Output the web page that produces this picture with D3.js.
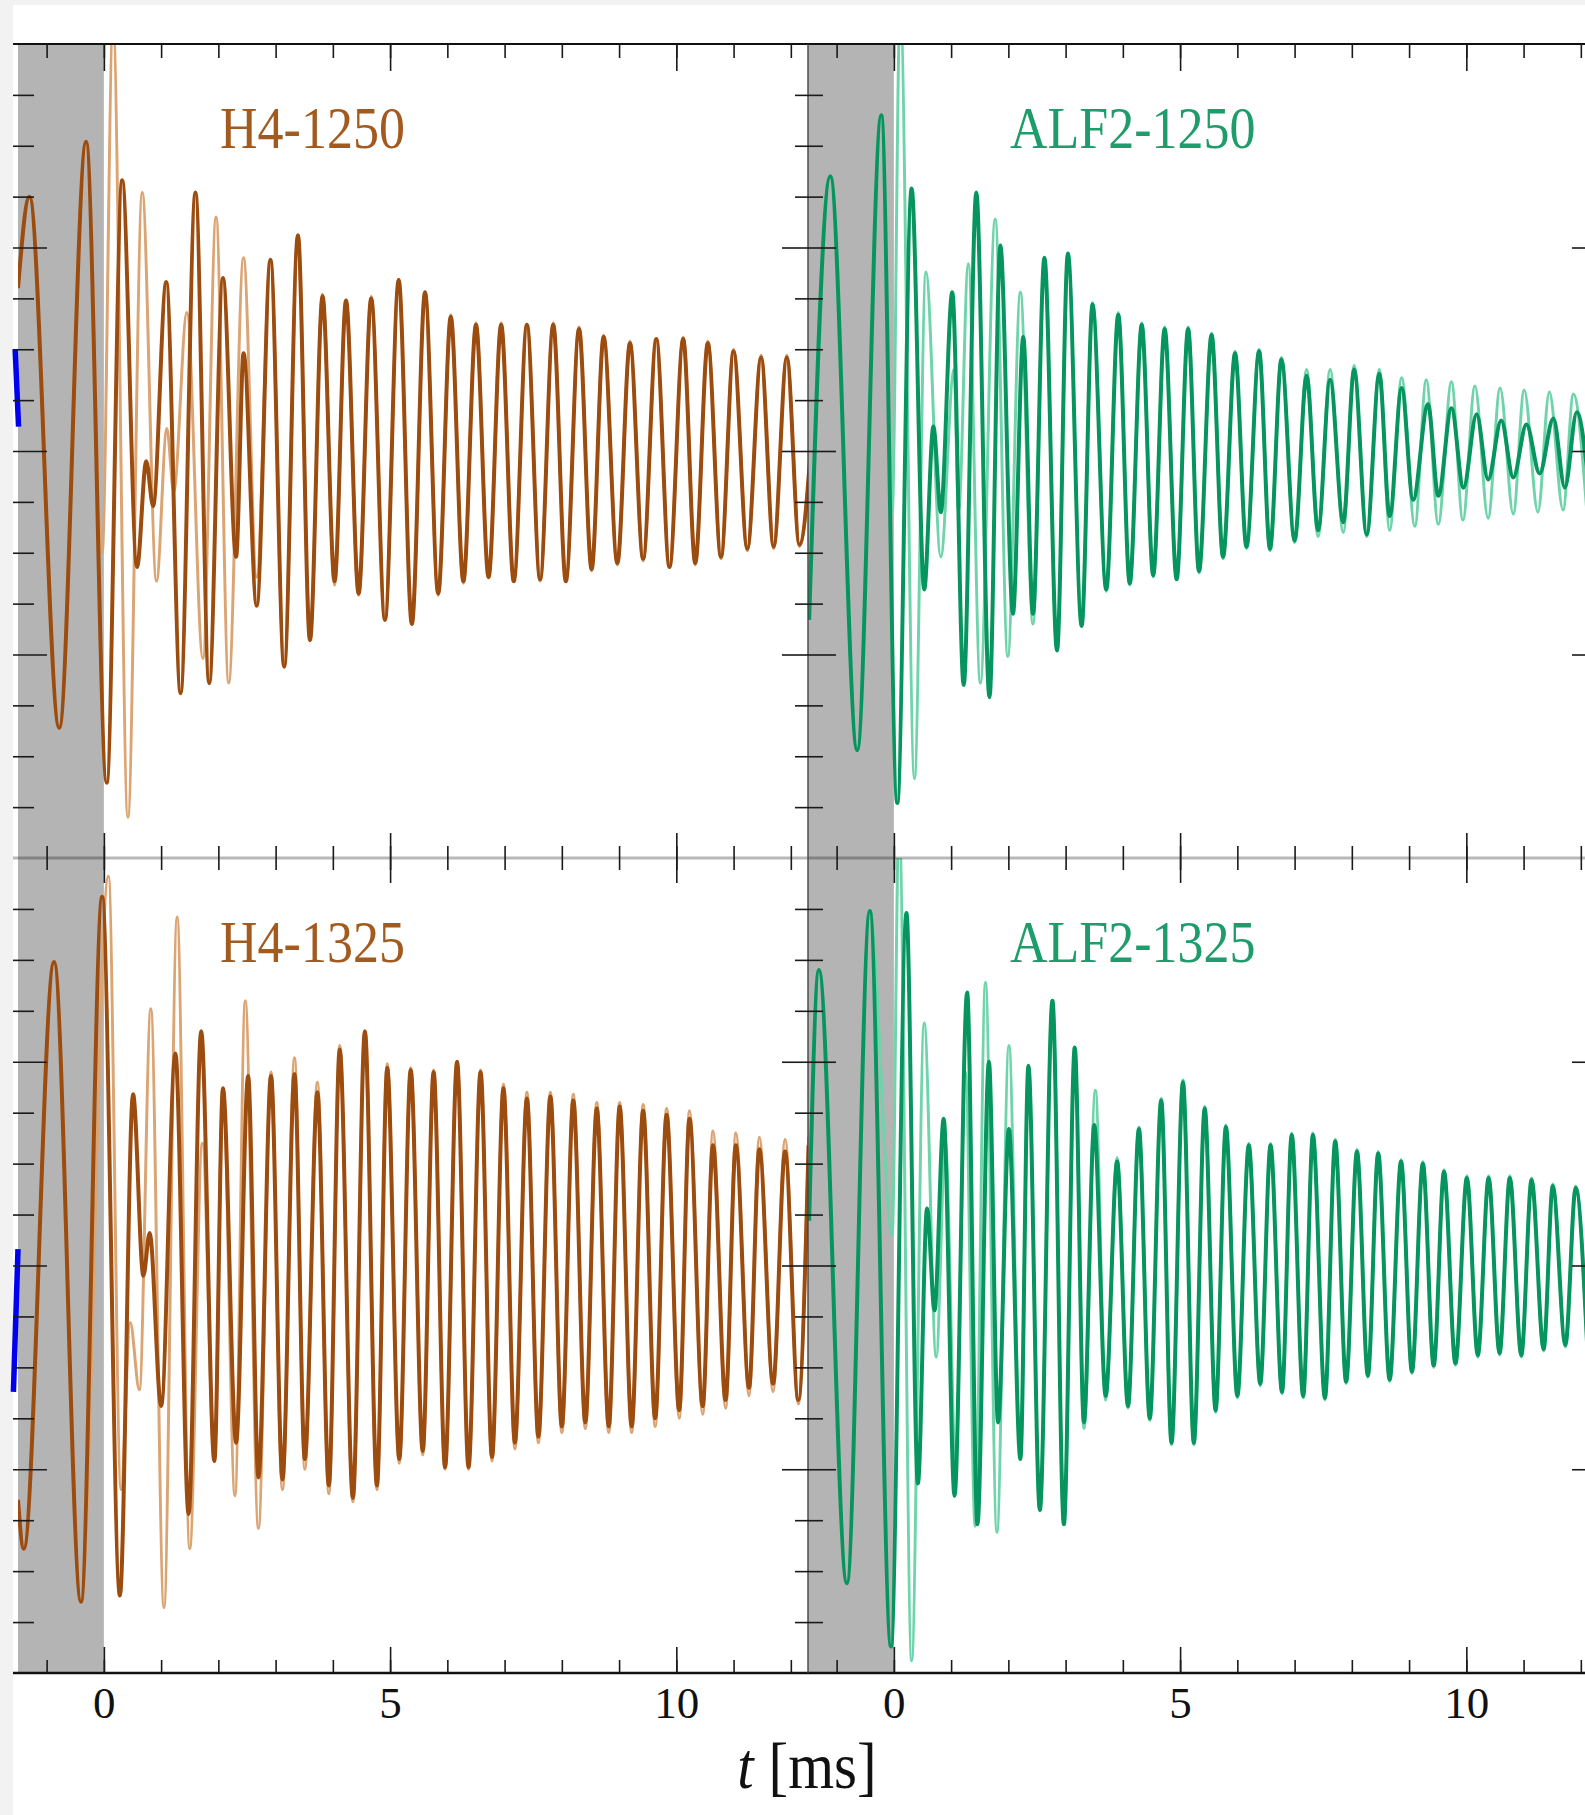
<!DOCTYPE html>
<html><head><meta charset="utf-8">
<script src="https://cdn.jsdelivr.net/npm/d3@7"></script>
<style>
html,body{margin:0;padding:0;background:#f2f2f2;}
svg{display:block;}
</style></head><body>
<svg id="c" width="1585" height="1815"></svg>
<script>
// ---------------- DATA (t in ms, h in axis units) ----------------
const panelNames = ["H4-1250", "ALF2-1250", "H4-1325", "ALF2-1325"];
const xTicksMinor = [-1,0,1,2,3,4,5,6,7,8,9,10,11,12];
const xTicksMajor = [0,5,10];
const xTickLabels = ["0","5","10"];
const yTicksMinor = [-1.75,-1.5,-1.25,-0.75,-0.5,-0.25,0.25,0.5,0.75,1.25,1.5,1.75];
const yTicksMajor = [-1,0,1];
const xAxisTitle = ["t", "[ms]"];

// H4-1250
const h4_1250_dark_t = [-1.50,-1.30,-0.78,-0.31,0.05,0.32,0.58,0.74,0.86,1.09,1.34,1.60,1.84,2.08,2.31,2.44,2.67,2.91,3.15,3.39,3.60,3.82,4.03,4.23,4.45,4.67,4.91,5.15,5.38,5.61,5.84,6.06,6.28,6.50,6.72,6.94,7.16,7.39,7.62,7.85,8.07,8.30,8.52,8.73,8.97,9.19,9.42,9.65,9.88,10.12,10.33,10.55,10.78,11.00,11.24,11.48,11.70,11.93,12.15,12.40];
const h4_1250_dark_h = [0.80,1.25,-1.36,1.52,-1.63,1.33,-0.57,-0.05,-0.27,0.83,-1.19,1.27,-1.14,0.85,-0.52,0.48,-0.76,0.94,-1.06,1.06,-0.93,0.76,-0.64,0.74,-0.70,0.75,-0.83,0.84,-0.85,0.78,-0.70,0.66,-0.64,0.62,-0.62,0.62,-0.64,0.62,-0.63,0.62,-0.64,0.60,-0.58,0.56,-0.55,0.53,-0.53,0.55,-0.57,0.55,-0.55,0.53,-0.52,0.49,-0.48,0.46,-0.47,0.46,-0.46,0.21];
const h4_1250_light_t = [-1.50,-1.30,-0.78,-0.31,-0.03,0.16,0.42,0.67,0.92,1.10,1.22,1.45,1.73,1.96,2.18,2.44,2.67,2.91,3.15,3.39,3.60,3.82,4.03,4.23,4.45,4.67,4.91,5.15,5.38,5.61,5.84,6.06,6.28,6.50,6.72,6.94,7.16,7.39,7.62,7.85,8.07,8.30,8.52,8.73,8.97,9.19,9.42,9.65,9.88,10.12,10.33,10.55,10.78,11.00,11.24,11.48,11.70,11.93,12.15,12.40];
const h4_1250_light_h = [0.80,1.25,-1.36,1.52,-0.50,2.10,-1.80,1.27,-0.64,0.11,-0.20,0.68,-1.02,1.15,-1.14,0.95,-0.62,0.94,-1.06,1.06,-0.93,0.77,-0.66,0.74,-0.71,0.76,-0.83,0.84,-0.85,0.78,-0.71,0.67,-0.65,0.63,-0.62,0.63,-0.64,0.62,-0.64,0.63,-0.64,0.61,-0.59,0.57,-0.56,0.54,-0.54,0.55,-0.57,0.56,-0.56,0.54,-0.53,0.50,-0.49,0.47,-0.48,0.47,-0.47,0.22];

// ALF2-1250
const alf2_1250_dark_t = [-1.48,-1.11,-0.64,-0.22,0.06,0.31,0.53,0.69,0.82,1.02,1.22,1.44,1.67,1.86,2.08,2.26,2.43,2.63,2.85,3.04,3.28,3.47,3.71,3.92,4.12,4.33,4.53,4.73,4.94,5.14,5.33,5.55,5.75,5.96,6.16,6.38,6.57,6.77,7.00,7.21,7.41,7.62,7.85,8.04,8.26,8.48,8.66,8.87,9.07,9.33,9.51,9.74,9.95,10.18,10.38,10.61,10.82,11.05,11.28,11.52,11.72,11.93,12.15];
const alf2_1250_dark_h = [-0.83,1.35,-1.47,1.65,-1.73,1.29,-0.68,0.12,-0.30,0.78,-1.15,1.27,-1.21,1.01,-0.80,0.56,-0.80,0.95,-0.98,0.97,-0.86,0.72,-0.68,0.67,-0.65,0.62,-0.61,0.60,-0.63,0.60,-0.59,0.57,-0.52,0.48,-0.47,0.49,-0.48,0.45,-0.44,0.37,-0.39,0.35,-0.35,0.40,-0.41,0.38,-0.32,0.31,-0.24,0.23,-0.22,0.21,-0.18,0.18,-0.14,0.15,-0.13,0.13,-0.11,0.16,-0.18,0.19,-0.20];
const alf2_1250_light_t = [-1.48,-1.11,-0.64,-0.22,-0.03,0.11,0.36,0.56,0.82,1.05,1.13,1.30,1.51,1.77,1.99,2.21,2.43,2.63,2.85,3.04,3.28,3.47,3.71,3.92,4.12,4.33,4.53,4.73,4.94,5.14,5.33,5.55,5.75,5.96,6.16,6.38,6.57,6.77,7.00,7.21,7.41,7.62,7.85,8.04,8.26,8.48,8.66,8.87,9.10,9.30,9.51,9.74,9.94,10.15,10.38,10.59,10.82,11.01,11.25,11.45,11.69,11.87,12.10];
const alf2_1250_light_h = [-0.83,1.35,-1.47,1.65,-0.30,2.20,-1.61,0.88,-0.52,0.40,-0.30,0.92,-1.14,1.14,-1.01,0.78,-0.85,0.95,-0.98,0.97,-0.86,0.73,-0.69,0.68,-0.66,0.63,-0.62,0.61,-0.63,0.61,-0.60,0.58,-0.53,0.49,-0.48,0.50,-0.49,0.46,-0.45,0.40,-0.42,0.40,-0.40,0.42,-0.42,0.40,-0.39,0.36,-0.37,0.35,-0.36,0.34,-0.34,0.32,-0.33,0.31,-0.31,0.30,-0.30,0.29,-0.29,0.28,-0.28];

// H4-1325
const h4_1325_dark_t = [-1.50,-1.40,-0.87,-0.40,-0.03,0.28,0.51,0.69,0.80,1.00,1.25,1.48,1.70,1.93,2.08,2.31,2.52,2.70,2.92,3.12,3.33,3.51,3.73,3.93,4.12,4.35,4.56,4.77,4.95,5.16,5.36,5.57,5.76,5.96,6.17,6.37,6.58,6.78,6.98,7.18,7.39,7.59,7.80,8.00,8.20,8.41,8.61,8.82,9.01,9.22,9.42,9.63,9.83,10.05,10.23,10.46,10.64,10.86,11.04,11.27,11.45,11.69,11.90,12.13,12.31];
const h4_1325_dark_h = [-1.15,-1.39,1.49,-1.65,1.81,-1.62,0.84,-0.05,0.16,-0.69,1.04,-1.22,1.15,-0.96,0.87,-0.87,0.93,-1.04,0.93,-1.05,0.94,-0.95,0.85,-1.08,1.06,-1.14,1.15,-1.08,0.97,-0.95,0.96,-0.91,0.95,-0.99,1.00,-0.99,0.95,-0.94,0.87,-0.87,0.82,-0.84,0.83,-0.79,0.81,-0.77,0.77,-0.79,0.78,-0.79,0.76,-0.75,0.74,-0.71,0.72,-0.69,0.59,-0.66,0.59,-0.60,0.57,-0.58,0.56,-0.66,0.59];
const h4_1325_light_t = [-1.50,-1.40,-0.87,-0.40,0.08,0.30,0.46,0.62,0.82,1.05,1.28,1.50,1.72,1.93,2.08,2.29,2.47,2.70,2.92,3.12,3.33,3.51,3.73,3.93,4.12,4.35,4.56,4.77,4.95,5.16,5.36,5.57,5.76,5.96,6.17,6.37,6.58,6.78,6.98,7.18,7.39,7.59,7.80,8.00,8.20,8.41,8.61,8.82,9.01,9.22,9.42,9.63,9.83,10.05,10.23,10.46,10.64,10.86,11.04,11.27,11.45,11.69,11.90,12.13,12.31];
const h4_1325_light_h = [-1.15,-1.39,1.49,-1.65,1.91,-1.10,-0.28,-0.61,1.26,-1.68,1.71,-1.39,0.60,-0.96,0.87,-1.13,1.30,-1.29,0.95,-1.10,1.02,-1.00,0.90,-1.12,1.08,-1.16,1.15,-1.10,0.99,-0.97,0.97,-0.93,0.96,-1.00,1.00,-1.00,0.96,-0.96,0.89,-0.90,0.85,-0.87,0.85,-0.82,0.84,-0.80,0.80,-0.82,0.80,-0.82,0.79,-0.79,0.77,-0.75,0.76,-0.73,0.66,-0.70,0.65,-0.64,0.63,-0.62,0.62,-0.68,0.63];

// ALF2-1325
const alf2_1325_dark_t = [-1.48,-1.31,-0.82,-0.42,-0.05,0.22,0.42,0.58,0.71,0.87,1.06,1.28,1.46,1.66,1.82,2.01,2.21,2.35,2.55,2.77,2.97,3.16,3.32,3.50,3.70,3.90,4.09,4.28,4.47,4.67,4.85,5.05,5.24,5.43,5.62,5.80,6.00,6.20,6.40,6.58,6.78,6.95,7.15,7.32,7.53,7.71,7.90,8.09,8.28,8.46,8.66,8.86,9.05,9.24,9.43,9.61,9.81,10.01,10.20,10.39,10.58,10.76,10.96,11.14,11.35,11.51,11.73,11.91,12.11];
const alf2_1325_dark_h = [0.22,1.45,-1.56,1.74,-1.87,1.73,-1.07,0.28,-0.22,0.72,-1.13,1.34,-1.27,1.00,-0.77,0.67,-0.95,0.98,-1.20,1.30,-1.27,1.07,-0.77,0.69,-0.64,0.51,-0.69,0.67,-0.75,0.81,-0.87,0.90,-0.87,0.77,-0.71,0.68,-0.64,0.59,-0.58,0.59,-0.62,0.64,-0.64,0.64,-0.65,0.61,-0.57,0.56,-0.54,0.55,-0.56,0.51,-0.52,0.50,-0.49,0.46,-0.48,0.43,-0.44,0.43,-0.43,0.43,-0.44,0.42,-0.41,0.39,-0.39,0.38,-0.39];
const alf2_1325_light_t = [-1.48,-1.31,-0.82,-0.42,-0.03,0.09,0.31,0.53,0.74,0.90,1.08,1.25,1.42,1.60,1.80,2.01,2.21,2.35,2.55,2.77,2.97,3.16,3.32,3.52,3.70,3.90,4.09,4.28,4.47,4.67,4.85,5.05,5.24,5.43,5.62,5.80,6.00,6.20,6.40,6.58,6.78,6.95,7.15,7.32,7.53,7.71,7.90,8.09,8.28,8.46,8.66,8.86,9.05,9.24,9.43,9.61,9.81,10.01,10.20,10.39,10.58,10.76,10.96,11.14,11.35,11.51,11.73,11.91,12.11];
const alf2_1325_light_h = [0.22,1.45,-1.56,1.74,0.15,2.20,-1.94,1.19,-0.45,0.60,-0.95,0.95,-1.28,1.39,-1.31,1.08,-0.95,0.98,-1.20,1.30,-1.27,1.07,-0.80,0.86,-0.66,0.53,-0.70,0.68,-0.76,0.82,-0.88,0.91,-0.88,0.78,-0.72,0.69,-0.65,0.60,-0.59,0.60,-0.63,0.65,-0.65,0.65,-0.66,0.62,-0.58,0.57,-0.55,0.56,-0.57,0.52,-0.53,0.51,-0.50,0.47,-0.49,0.44,-0.45,0.44,-0.44,0.44,-0.45,0.43,-0.42,0.40,-0.40,0.39,-0.40];

// blue fragments of a neighbouring (cropped) curve at the far left
const blueTop_t = [-1.55, -1.49];
const blueTop_h = [0.50, 0.12];
const blueBot_t = [-1.50, -1.58];
const blueBot_h = [0.08, -0.62];

// ---------------- RENDERING ----------------
const panels = [
  {name: panelNames[0], col:0, row:0, dt:h4_1250_dark_t,  dh:h4_1250_dark_h,  lt:h4_1250_light_t,  lh:h4_1250_light_h,  dark:"#9b4c0e", light:"#dba473", text:"#a35a1f"},
  {name: panelNames[1], col:1, row:0, dt:alf2_1250_dark_t, dh:alf2_1250_dark_h, lt:alf2_1250_light_t, lh:alf2_1250_light_h, dark:"#07955f", light:"#6fd4ab", text:"#1f9c6b"},
  {name: panelNames[2], col:0, row:1, dt:h4_1325_dark_t,  dh:h4_1325_dark_h,  lt:h4_1325_light_t,  lh:h4_1325_light_h,  dark:"#9b4c0e", light:"#dba473", text:"#a35a1f"},
  {name: panelNames[3], col:1, row:1, dt:alf2_1325_dark_t, dh:alf2_1325_dark_h, lt:alf2_1325_light_t, lh:alf2_1325_light_h, dark:"#07955f", light:"#6fd4ab", text:"#1f9c6b"}
];
const cols = [[18,808],[808,1598]];
const rows = [[44,858],[858,1673]];
const tDomain = [-1.5, 12.3];
const hDomain = [-2, 2];
const labelPos = [2.03, 1.49];

const svg = d3.select("#c");
svg.append("rect").attr("x",13).attr("y",5).attr("width",1572).attr("height",1810).attr("fill","#ffffff");
const defs = svg.append("defs");

const scales = panels.map(p => {
  const x = d3.scaleLinear().domain(tDomain).range(cols[p.col]);
  const y = d3.scaleLinear().domain(hDomain).range([rows[p.row][1], rows[p.row][0]]);
  return {x, y};
});

panels.forEach((p, i) => {
  const {x, y} = scales[i];
  const [x0, x1] = cols[p.col], [y0, y1] = rows[p.row];
  defs.append("clipPath").attr("id", "clip"+i).append("rect")
    .attr("x", x0).attr("y", y0).attr("width", x1-x0).attr("height", y1-y0);
  const g = svg.append("g");
  g.append("rect").attr("x", x(tDomain[0])).attr("y", y(hDomain[1]))
    .attr("width", x(0)-x(tDomain[0])).attr("height", y(hDomain[0])-y(hDomain[1]))
    .attr("fill", "#b4b4b4");
  const line = d3.line().x(d => x(d[0])).y(d => y(d[1])).curve(d3.curveMonotoneX);
  const cg = g.append("g").attr("clip-path", "url(#clip"+i+")");
  cg.append("path").datum(d3.zip(p.lt, p.lh)).attr("d", line)
    .attr("fill","none").attr("stroke", p.light).attr("stroke-width", 3.0).attr("stroke-linejoin","round");
  cg.append("path").datum(d3.zip(p.dt, p.dh)).attr("d", line)
    .attr("fill","none").attr("stroke", p.dark).attr("stroke-width", 4.0).attr("stroke-linejoin","round");
});

[[0, blueTop_t, blueTop_h],[2, blueBot_t, blueBot_h]].forEach(([i, bt, bh]) => {
  const {x, y} = scales[i];
  svg.append("path").datum(d3.zip(bt, bh))
    .attr("d", d3.line().x(d => x(d[0])).y(d => y(d[1])))
    .attr("fill","none").attr("stroke","#0000ee").attr("stroke-width",5.5);
});

// frame lines
svg.append("line").attr("x1",13).attr("x2",1585).attr("y1",44).attr("y2",44).attr("stroke","#111").attr("stroke-width",2);
svg.append("line").attr("x1",13).attr("x2",1585).attr("y1",858).attr("y2",858).attr("stroke","rgba(0,0,0,0.28)").attr("stroke-width",3);
svg.append("line").attr("x1",13).attr("x2",1585).attr("y1",1673).attr("y2",1673).attr("stroke","#111").attr("stroke-width",2.6);
svg.append("line").attr("x1",808).attr("x2",808).attr("y1",44).attr("y2",1673).attr("stroke","#444").attr("stroke-width",1.4);

function styleAxis(sel){
  sel.select(".domain").remove();
  sel.selectAll(".tick line").attr("stroke","#1a1a1a").attr("stroke-width",1.6);
}
function addAxis(axis, tx, ty){
  svg.append("g").attr("transform",`translate(${tx},${ty})`).call(axis).call(styleAxis);
}

// x ticks
panels.forEach((p, i) => {
  const {x} = scales[i];
  const yTop = rows[p.row][0], yBot = rows[p.row][1];
  addAxis(d3.axisBottom(x).tickValues(xTicksMinor).tickSize(p.row===0?14:12).tickFormat(""), 0, yTop);
  addAxis(d3.axisBottom(x).tickValues(xTicksMajor).tickSize(p.row===0?27:25).tickFormat(""), 0, yTop);
  addAxis(d3.axisTop(x).tickValues(xTicksMinor).tickSize(p.row===0?12:13).tickFormat(""), 0, yBot);
  addAxis(d3.axisTop(x).tickValues(xTicksMajor).tickSize(p.row===0?25:26).tickFormat(""), 0, yBot);
  if (p.row === 1) {
    const lab = svg.append("g").attr("transform",`translate(0,${yBot})`)
      .call(d3.axisBottom(x).tickValues(xTicksMajor).tickSize(0).tickPadding(13).tickFormat((d,k)=>xTickLabels[k]));
    lab.select(".domain").remove();
    lab.selectAll("text").attr("font-family","'Liberation Serif', 'Times New Roman', serif")
      .attr("font-size",45).attr("fill","#111");
  }
});

// y ticks
panels.forEach((p, i) => {
  const {y} = scales[i];
  if (p.col === 0) {
    addAxis(d3.axisRight(y).tickValues(yTicksMinor).tickSize(21).tickFormat(""), 13, 0);
    addAxis(d3.axisRight(y).tickValues(yTicksMajor).tickSize(34).tickFormat(""), 13, 0);
    addAxis(d3.axisLeft(y).tickValues(yTicksMinor).tickSize(13).tickFormat(""), 808, 0);
    addAxis(d3.axisLeft(y).tickValues(yTicksMajor).tickSize(26).tickFormat(""), 808, 0);
  } else {
    addAxis(d3.axisRight(y).tickValues(yTicksMinor).tickSize(15).tickFormat(""), 808, 0);
    addAxis(d3.axisRight(y).tickValues(yTicksMajor).tickSize(28).tickFormat(""), 808, 0);
    addAxis(d3.axisLeft(y).tickValues(yTicksMinor).tickSize(13).tickFormat(""), 1598, 0);
    addAxis(d3.axisLeft(y).tickValues(yTicksMajor).tickSize(26).tickFormat(""), 1598, 0);
  }
});

// panel labels
panels.forEach((p, i) => {
  const {x, y} = scales[i];
  svg.append("text")
    .attr("transform", `translate(${x(labelPos[0])},${y(labelPos[1])}) scale(1,1.12)`)
    .attr("font-family","'Liberation Serif', 'Times New Roman', serif")
    .attr("font-size",52).attr("fill",p.text).text(p.name);
});

// x-axis title
const title = svg.append("text")
  .attr("transform","translate(807,1788) scale(1,1.12)")
  .attr("text-anchor","middle")
  .attr("font-family","'Liberation Serif', 'Times New Roman', serif")
  .attr("font-size",59).attr("fill","#111");
title.append("tspan").attr("font-style","italic").text(xAxisTitle[0]);
title.append("tspan").text(" " + xAxisTitle[1]);
</script></body></html>
